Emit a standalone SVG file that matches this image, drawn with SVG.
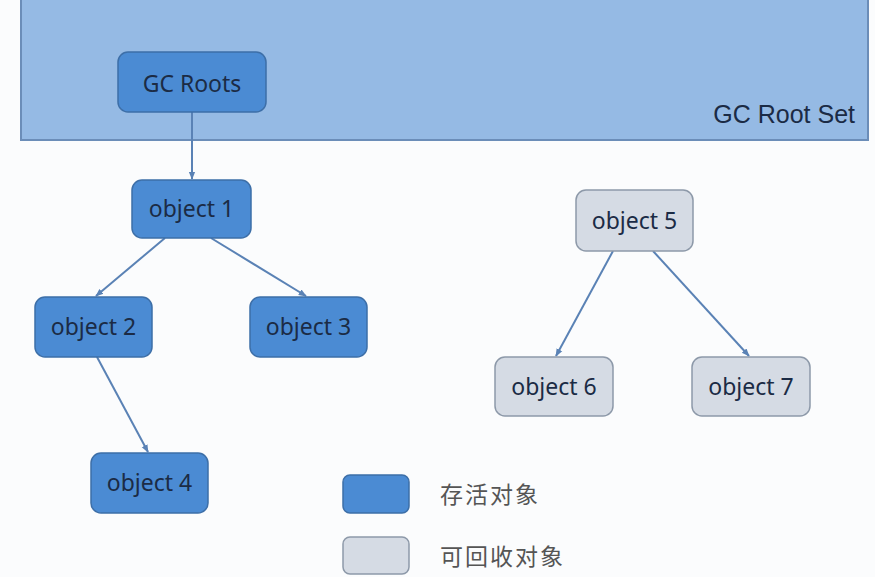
<svg xmlns="http://www.w3.org/2000/svg" width="875" height="577" viewBox="0 0 875 577">
<defs>
<style>
.live rect{fill:#4b8bd3;stroke:#3d6fa8;stroke-width:1.5}
.dead rect{fill:#d5dbe4;stroke:#8d99a9;stroke-width:1.5}
.lbl{font-family:"Noto Sans","Liberation Sans",sans-serif;font-size:23px;fill:#1b2b45;text-anchor:middle}
.edge{stroke:#5a82b5;stroke-width:2;fill:none;marker-end:url(#ah)}
.leg{font-family:"Noto Sans CJK SC",sans-serif;font-size:23px;fill:#555;letter-spacing:2px}
</style>
<marker id="ah" viewBox="0 0 10 10" refX="9" refY="5" markerWidth="4" markerHeight="4" orient="auto">
<path d="M0,1 L10,5 L0,9 z" fill="#5a82b5"/>
</marker>
</defs>
<rect width="875" height="577" fill="#fbfcfd"/>
<g id="rootset">
<rect x="21" y="-3" width="847" height="143" fill="#95bae4" stroke="#6b8db8" stroke-width="2"/>
<text x="855" y="123" font-family="Liberation Sans, Arial, sans-serif" font-size="25" fill="#1b2b45" text-anchor="end">GC Root Set</text>
</g>
<g id="connectors">
<line class="edge" x1="192" y1="112" x2="192" y2="179"/>
<line class="edge" x1="165" y1="238" x2="96" y2="296"/>
<line class="edge" x1="211" y1="238" x2="306" y2="296"/>
<line class="edge" x1="97" y1="357" x2="148" y2="452"/>
<line class="edge" x1="613" y1="251" x2="556" y2="356"/>
<line class="edge" x1="653" y1="251" x2="749" y2="356"/>
</g>
<g id="gcroots" class="live">
<rect x="118" y="52" width="148" height="60" rx="10"/>
<text class="lbl" x="192" y="92" font-family="Liberation Sans, sans-serif">GC Roots</text>
</g>
<g id="obj1" class="live">
<rect x="132" y="180" width="119" height="58" rx="10"/>
<text class="lbl" x="191.5" y="217">object 1</text>
</g>
<g id="obj2" class="live">
<rect x="35" y="297" width="117" height="60" rx="10"/>
<text class="lbl" x="93.5" y="335">object 2</text>
</g>
<g id="obj3" class="live">
<rect x="250" y="297" width="117" height="60" rx="10"/>
<text class="lbl" x="308.5" y="335">object 3</text>
</g>
<g id="obj4" class="live">
<rect x="91" y="453" width="117" height="60" rx="10"/>
<text class="lbl" x="149.5" y="491">object 4</text>
</g>
<g id="obj5" class="dead">
<rect x="576" y="190" width="117" height="61" rx="10"/>
<text class="lbl" x="634.5" y="229">object 5</text>
</g>
<g id="obj6" class="dead">
<rect x="495" y="357" width="118" height="59" rx="10"/>
<text class="lbl" x="554" y="395">object 6</text>
</g>
<g id="obj7" class="dead">
<rect x="692" y="357" width="118" height="59" rx="10"/>
<text class="lbl" x="751" y="395">object 7</text>
</g>
<g id="legend-live" class="live">
<rect x="343" y="475" width="66" height="38" rx="7"/>
<text class="leg" x="440" y="503">存活对象</text>
</g>
<g id="legend-dead" class="dead">
<rect x="343" y="537" width="66" height="37" rx="7"/>
<text class="leg" x="440" y="565">可回收对象</text>
</g>
</svg>
